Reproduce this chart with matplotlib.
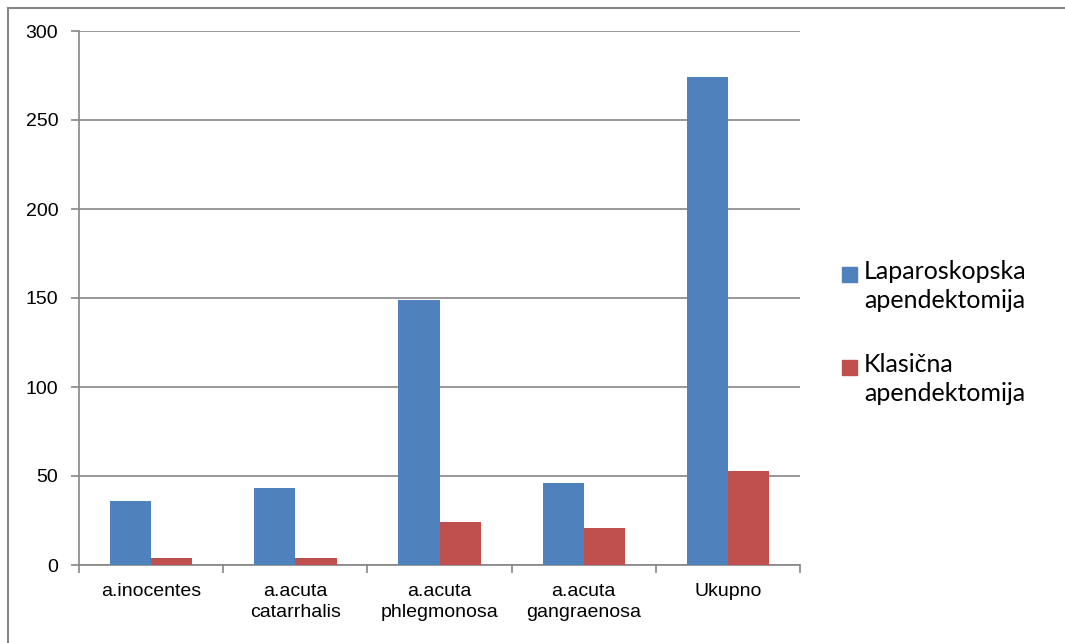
import numpy as np
import matplotlib
matplotlib.use('Agg')
from matplotlib import pyplot as plt
from matplotlib.patches import Rectangle
from matplotlib.lines import Line2D

categories = ['a.inocentes', 'a.acuta\ncatarrhalis', 'a.acuta\nphlegmonosa',
              'a.acuta\ngangraenosa', 'Ukupno']
laparoskopska = [36, 43, 149, 46, 274]
klasicna = [4, 4, 24, 21, 53]
series_names = ['Laparoskopska\napendektomija', 'Klasična\napendektomija']
yticks = [0, 50, 100, 150, 200, 250, 300]

blue = '#4F81BD'
red = '#C0504D'
grey = '#868686'

plt.rcParams['font.family'] = ['Liberation Sans', 'DejaVu Sans']

fig = plt.figure(figsize=(10.65, 6.43), dpi=100)
ax = fig.add_axes([79/1065, 1-565/643, 721/1065, 534/643])

x = np.arange(len(categories))
w = 2/7
ax.bar(x - w/2, laparoskopska, w, color=blue, zorder=3)
ax.bar(x + w/2, klasicna, w, color=red, zorder=3)

ax.set_xlim(-0.5, len(categories)-0.5)
ax.set_ylim(0, 300)
ax.set_yticks(yticks)
ax.yaxis.grid(True, color=grey, linewidth=1.2, zorder=0)
ax.set_xticks(x)
ax.set_xticklabels(categories, fontsize=14, linespacing=1.3)
ax.set_xticks(np.arange(len(categories)+1) - 0.5, minor=True)
ax.tick_params(axis='x', which='major', length=0, pad=13)
ax.tick_params(axis='x', which='minor', length=6, color=grey, width=1.2)
ax.tick_params(axis='y', length=6, color=grey, width=1.2, labelsize=14, pad=9)
for s in ['top', 'right']:
    ax.spines[s].set_visible(False)
for s in ['left', 'bottom']:
    ax.spines[s].set_color(grey)
    ax.spines[s].set_linewidth(1.2)

# legend drawn by hand so the square sits beside the first line
for i, (name, col) in enumerate(zip(series_names, [blue, red])):
    ytop = 1 - (267 + i*93)/643
    fig.patches.append(Rectangle((842/1065, ytop - 15/643), 15/1065, 15/643,
                                 transform=fig.transFigure, color=col))
    fig.text(864/1065, ytop + 7/643, name, family=['Lato', 'DejaVu Sans'],
             fontsize=18, va='top', ha='left', linespacing=1.3)

# outer frame of the chart area (left and top edges)
fig.add_artist(Line2D([8/1065, 8/1065], [0, 1-8/643], transform=fig.transFigure,
                      color=grey, linewidth=1.5))
fig.add_artist(Line2D([8/1065, 1], [1-8/643, 1-8/643], transform=fig.transFigure,
                      color=grey, linewidth=1.5))

plt.savefig('out.png', dpi=100)
